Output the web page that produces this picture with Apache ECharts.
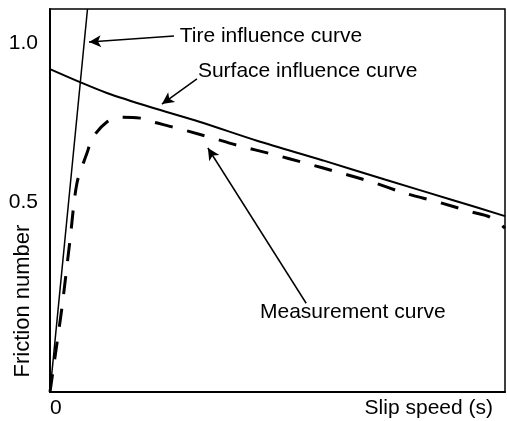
<!DOCTYPE html>
<html>
<head>
<meta charset="utf-8">
<script src="https://cdn.jsdelivr.net/npm/echarts@6/dist/echarts.min.js"></script>
<style>
  html, body { margin: 0; padding: 0; background: #fff; }
  #chart { width: 507px; height: 421px; }
</style>
</head>
<body>
<div id="chart"></div>
<script>
// Tire influence: a steep straight line out of the origin
const tireSlip = [0, 0.824];
const tireFriction = [-0.097, 1.107];

// Surface influence: gently falling curve
const surfaceSlip = [0, 0.66, 1.25, 2.20, 3.30, 4.55, 6.0, 7.36, 8.86, 10];
const surfaceFriction = [0.918, 0.877, 0.843, 0.799, 0.752, 0.693, 0.631, 0.571, 0.506, 0.456];

// Measured friction: rises fast, peaks, then follows the surface curve
const measurementSlip = [0, 0.154, 0.264, 0.44, 0.593, 0.813, 0.945, 1.25, 1.54, 1.98, 2.26, 2.70, 3.41, 4.18, 4.88, 5.60, 6.33, 7.08, 7.80, 8.53, 9.27, 9.67, 10];
const measurementFriction = [-0.097, 0.057, 0.170, 0.381, 0.560, 0.654, 0.704, 0.752, 0.767, 0.764, 0.752, 0.736, 0.708, 0.676, 0.651, 0.623, 0.594, 0.563, 0.528, 0.500, 0.469, 0.453, 0.418];

// Axis ticks
const frictionTicks = [0.5, 1.0];
const slipTicks = [0];

// Callout texts and their arrows (data coordinates)
const calloutText = ['Tire influence curve', 'Surface influence curve', 'Measurement curve'];
const calloutAt = [[2.85, 1.022], [3.25, 0.912], [4.615, 0.154]];
const arrowFrom = [[2.725, 1.022], [3.23, 0.887], [5.63, 0.182]];
const arrowTo = [[0.857, 1.003], [2.46, 0.808], [3.47, 0.670]];

const FONT = '"Liberation Sans", Arial, Helvetica, sans-serif';
const zip = (xs, ys) => xs.map((x, i) => [x, ys[i]]);

const chart = echarts.init(document.getElementById('chart'));
chart.setOption({
  animation: false,
  backgroundColor: '#fff',
  textStyle: { fontFamily: FONT, color: '#000' },
  grid: {
    left: 50, right: 2, top: 9, bottom: 29,
    show: true, borderColor: '#000', borderWidth: 1.5
  },
  xAxis: {
    type: 'value', min: 0, max: 10,
    axisLine: { show: true, onZero: false, lineStyle: { color: '#000', width: 2 } },
    axisTick: { show: false },
    splitLine: { show: false },
    axisLabel: {
      customValues: slipTicks,
      formatter: v => String(v),
      align: 'left', margin: 6,
      fontSize: 21, fontFamily: FONT, color: '#000'
    },
    name: 'Slip speed (s)',
    nameLocation: 'end',
    nameGap: -12,
    nameTextStyle: {
      fontSize: 21, fontFamily: FONT, color: '#000',
      align: 'right', verticalAlign: 'top', padding: [6, 0, 0, 0]
    }
  },
  yAxis: {
    type: 'value', min: -0.097, max: 1.107,
    axisLine: { show: true, onZero: false, lineStyle: { color: '#000', width: 2 } },
    axisTick: { show: false },
    splitLine: { show: false },
    axisLabel: {
      customValues: frictionTicks,
      formatter: v => v.toFixed(1),
      margin: 12,
      fontSize: 21, fontFamily: FONT, color: '#000'
    }
  },
  graphic: [{
    type: 'text',
    x: 23, y: 301,
    rotation: Math.PI / 2,
    style: {
      text: 'Friction number',
      font: '22px ' + FONT,
      fill: '#000',
      align: 'center',
      verticalAlign: 'middle'
    }
  }],
  series: [
    {
      name: 'Tire influence curve',
      type: 'line',
      data: zip(tireSlip, tireFriction),
      showSymbol: false,
      lineStyle: { color: '#000', width: 1.5 },
      z: 3
    },
    {
      name: 'Surface influence curve',
      type: 'line',
      data: zip(surfaceSlip, surfaceFriction),
      smooth: 0.3,
      showSymbol: false,
      lineStyle: { color: '#000', width: 2 },
      z: 3
    },
    {
      name: 'Measurement curve',
      type: 'line',
      data: zip(measurementSlip, measurementFriction),
      smooth: 0.3,
      showSymbol: false,
      lineStyle: { color: '#000', width: 3, type: [18, 15] },
      z: 2,
      markLine: {
        silent: true,
        symbol: ['none', 'arrow'],
        symbolSize: [9, 12],
        lineStyle: { color: '#000', width: 1.5, type: 'solid' },
        label: { show: false },
        data: arrowFrom.map((p, i) => [{ coord: p }, { coord: arrowTo[i] }])
      },
      markPoint: {
        silent: true,
        symbol: 'circle',
        symbolSize: 0,
        label: {
          show: true,
          position: [0, 0],
          align: 'left',
          verticalAlign: 'middle',
          fontSize: 21,
          fontFamily: FONT,
          color: '#000',
          formatter: p => p.name
        },
        data: calloutText.map((t, i) => ({ name: t, coord: calloutAt[i] }))
      }
    }
  ]
});
</script>
</body>
</html>
